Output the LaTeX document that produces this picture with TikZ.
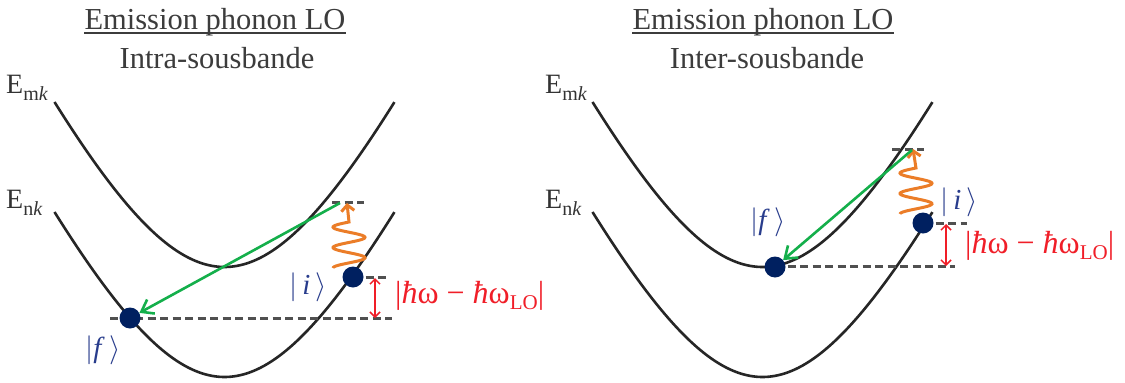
\RequirePackage{fix-cm}
\documentclass[tikz,border=0pt]{standalone}
\usepackage{fontspec}
\setmainfont{Liberation Serif}
\usetikzlibrary{arrows.meta,calc}
\definecolor{navy}{RGB}{0,32,96}
\definecolor{lblblue}{RGB}{40,60,140}
\definecolor{phon}{RGB}{235,125,40}
\definecolor{grn}{RGB}{20,175,75}
\definecolor{txtgray}{RGB}{60,60,60}
\definecolor{dashgray}{RGB}{80,80,80}
\definecolor{redc}{RGB}{240,30,40}
\newcommand\bandcurve[2]{\draw[band] plot[domain=-1.70:1.70, samples=90, variable=\u] ({#1+100*\u},{#2-100*(sqrt(9+4.368*\u*\u)-3)});}
\tikzset{
 band/.style={line width=2.6pt, black!85},
 lvl/.style={dashgray, line width=3pt, dash pattern=on 8pt off 4.5pt},
 dot/.style={circle, fill=navy, inner sep=0pt, minimum size=21pt},
 gap/.style={redc, line width=1.5pt, {Straight Barb[length=5pt,width=10pt]}-{Straight Barb[length=5pt,width=10pt]}},
 trans/.style={grn, line width=2.6pt, -{Straight Barb[length=11pt,width=16pt]}},
 phonon/.style={phon, line width=3pt, -{Straight Barb[length=6pt,width=13pt]}},
 title/.style={font=\fontsize{30.5}{32}\selectfont, text=txtgray, inner sep=0pt, anchor=base},
 elab/.style={font=\fontsize{28}{29}\selectfont, text=black!80, inner sep=0pt, anchor=base west},
 ket/.style={font=\fontsize{29}{30}\selectfont, text=lblblue, inner sep=0pt},
 gaplab/.style={font=\fontsize{32}{34}\selectfont, text=redc, inner sep=0pt, anchor=base west},
}
\begin{document}
\begin{tikzpicture}[x=1pt,y=-1pt]
\useasboundingbox (0,0) rectangle (1125,383);
% ---------- titles ----------
\node[title] (t1) at (215,29) {Emission phonon LO};
\draw[txtgray, line width=1.5pt] ($(t1.base west)+(0,4)$) -- ($(t1.base east)+(0,4)$);
\node[title] (s1) at (217,68) {Intra-sousbande};
\node[title] (t2) at (763,29) {Emission phonon LO};
\draw[txtgray, line width=1.5pt] ($(t2.base west)+(0,4)$) -- ($(t2.base east)+(0,4)$);
\node[title] (s2) at (767,68) {Inter-sousbande};
% ---------- band labels ----------
\node[elab] (em1) at (6,93) {E\raisebox{-7pt}{\fontsize{20}{20}\selectfont m\textit{k}}};
\node[elab] (en1) at (6,208) {E\raisebox{-7pt}{\fontsize{20}{20}\selectfont n\textit{k}}};
\node[elab] (em2) at (545,93) {E\raisebox{-7pt}{\fontsize{20}{20}\selectfont m\textit{k}}};
\node[elab] (en2) at (545,208) {E\raisebox{-7pt}{\fontsize{20}{20}\selectfont n\textit{k}}};
% ---------- bands ----------
\bandcurve{224.5}{267}
\bandcurve{224.5}{377}
\bandcurve{762.5}{267}
\bandcurve{762.5}{377}
% ---------- left panel ----------
\coordinate (pL) at (347,203);
\coordinate (gLa) at (375,278);
\coordinate (gLb) at (375,318);
\draw[lvl] (110,318) -- (392,318);
\draw[lvl] (353,277) -- (386,277);
\draw[lvl] (332,202) -- (364,202);
\draw[gap] (gLa) -- (gLb);
\node[dot] (iL) at (353,277) {};
\node[dot] (fL) at (130,318) {};
\draw[phonon] plot[domain=0:2.25, samples=70, variable=\t] ({349-16*cos(360*\t)},{268-46*\t/2.25}) -- (pL);
\draw[trans] (340,203) -- (fL);
\node[ket] (kiL) at (308,287) {$|$\,\textit{i}\,$\rangle$};
\node[ket] (kfL) at (103,350) {$|$\textit{f}\,$\rangle$};
\node[gaplab] (gl1) at (395,303) {|\textit{ħ}ω − \textit{ħ}ω\raisebox{-6pt}{\fontsize{21}{21}\selectfont LO}|};
% ---------- right panel ----------
\coordinate (pR) at (913,149);
\coordinate (gRa) at (946,224);
\coordinate (gRb) at (946,266);
\draw[lvl] (775,266) -- (955,266);
\draw[lvl] (923,223) -- (967,223);
\draw[lvl] (892,149) -- (924,149);
\draw[gap] (gRa) -- (gRb);
\node[dot] (iR) at (923,223) {};
\node[dot] (fR) at (775,267) {};
\draw[phonon] plot[domain=0:2.25, samples=70, variable=\t] ({916-16*cos(360*\t)},{214-46*\t/2.25}) -- (pR);
\draw[trans] (912,150) -- (fR);
\node[ket] (kiR) at (959,202) {$|$\,\textit{i}\,$\rangle$};
\node[ket] (kfR) at (768,222) {$|$\textit{f}\,$\rangle$};
\node[gaplab] (gl2) at (965,253) {|\textit{ħ}ω − \textit{ħ}ω\raisebox{-6pt}{\fontsize{21}{21}\selectfont LO}|};
\end{tikzpicture}
\end{document}
